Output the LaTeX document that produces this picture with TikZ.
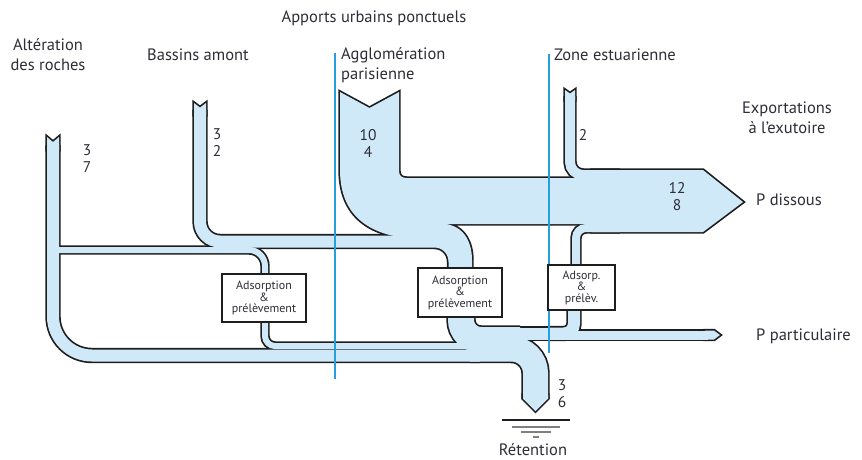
\documentclass[tikz,border=0pt]{standalone}
\usepackage{fontspec}
\setmainfont{PT Sans}
\definecolor{flow}{RGB}{208,233,248}
\definecolor{edge}{RGB}{30,30,30}
\definecolor{zone}{RGB}{38,160,218}
\definecolor{ink}{RGB}{45,45,55}
\newcommand{\rim}{0pt}
\newcommand{\tightlines}{\lineskiplimit-20pt\lineskip0pt\relax}
\newcommand{\flowshapes}[2]{%
\draw[#1,line width=12pt+\rim,rounded corners=39pt](53,145)--(53,355.5)--(480,355.5);
\draw[#1,line width=6pt+\rim,rounded corners=16pt](53,250)--(265,250)--(265,277);
\draw[#1,line width=12pt+\rim,rounded corners=20pt](200,110)--(200,241.5)--(454.5,241.5)--(454.5,272);
\draw[#1,line width=10pt+\rim,rounded corners=13pt](570,96)--(570,175)--(620,175);
\draw[#1,line width=8pt+\rim,rounded corners=10pt](576,268)--(576,228)--(620,228);
\draw[#1,line width=6pt+\rim,rounded corners=10pt](265,318)--(265,346)--(480,346);
\draw[#1,line width=26pt+\rim,rounded corners=20pt](461,314)--(461,340)--(520,340);
\draw[#1,line width=25pt+\rim,rounded corners=24pt](470,349)--(535.5,349)--(535.5,399);
\draw[#1,line width=12pt+\rim](480,333.5)--(576,333.5);
\draw[#1,line width=12pt+\rim,rounded corners=10pt](574,306)--(574,333.5)--(550,333.5);
\draw[#1,line width=9pt+\rim](565,335)--(708,335);
\path[#2](47,137)--(53,142)--(59,137)--(59,150)--(47,150)--cycle;
\path[#2](194,103)--(200,107.5)--(206,103)--(206,115)--(194,115)--cycle;
\path[#2](565,90)--(570,93.5)--(575,90)--(575,100)--(565,100)--cycle;
\path[#2](340,92)--(369.5,108)--(399,92)--(399,171)..controls(399,176)and(402,178)..(407,178)--(600,178)--(600,224)--(442,224)
  ..controls(462,224)and(472,240)..(472,260)--(472,272)--(454.5,272)--(454.5,261.5)..controls(454.5,250.5)and(445.5,241.5)..(434.5,241.5)
  --(425,239)..controls(375,239)and(340,220)..(340,170)--cycle;
\path[#2](592,170)--(703,170)--(743,202)--(703,232)--(592,232)--cycle;
\path[#2](523,395)--(523,398.5)--(535.5,411)--(548,398.5)--(548,395)--cycle;
\path[#2](705,330.5)--(714,330.5)--(720,335)--(714,339.5)--(705,339.5)--cycle;
}
\tikzset{
  lbl/.style={text=ink,inner sep=0pt,font={\fontsize{16.5}{20}\selectfont}},
  num/.style={lbl,align=center,font={\fontsize{15.5}{17}\selectfont\tightlines}},
  procbox/.style={draw=edge,fill=white,line width=1.5pt,align=center,inner sep=0pt,text=ink,
    font={\fontsize{12}{11.5}\selectfont\tightlines}},
  zoneline/.style={draw=zone,line width=1.6pt},
  ground/.style={draw=gray,line width=1.8pt}
}
\begin{document}
\begin{tikzpicture}[x=1pt,y=-1pt]
\useasboundingbox(0,0)rectangle(862,459);
\renewcommand{\rim}{3.4pt}\flowshapes{edge}{draw=edge,line width=3.4pt}
\renewcommand{\rim}{0pt}\flowshapes{flow}{fill=flow}
\draw[zoneline](335,53)--(335,379);\draw[zoneline](549,54)--(549,353);
\node[procbox,minimum width=84pt,minimum height=48pt](ads1)at(264,298){Adsorption\\\&\\prélèvement};
\node[procbox,minimum width=84pt,minimum height=49pt](ads2)at(460,292.5){Adsorption\\\&\\prélèvement};
\node[procbox,minimum width=67pt,minimum height=45pt](ads3)at(581.5,287.5){Adsorp.\\\&\\prélèv.};
\node[lbl](apports)at(374,18){Apports urbains ponctuels};
\node[lbl,align=center](alteration)at(48,55){Altération\\des roches};
\node[lbl](bassins)at(198,55){Bassins amont};
\node[lbl,align=left,anchor=west](agglo)at(341,65){Agglomération\\parisienne};
\node[lbl,anchor=west](estuaire)at(554,55){Zone estuarienne};
\node[lbl,align=center](exutoire)at(787,118){Exportations\\à l'exutoire};
\node[lbl,anchor=west](dissous)at(756,200){P dissous};
\node[lbl,anchor=west](particulaire)at(756,336){P particulaire};
\node[lbl](retention)at(533,450){Rétention};
\node[num](qalt)at(87,158.5){3\\7};\node[num](qbas)at(217,143){3\\2};
\node[num](qagg)at(368,143){10\\4};\node[num](qest)at(583,135){2};
\node[num](qexp)at(677,197){12\\8};\node[num](qret)at(562,394){3\\6};
\draw[edge,line width=1.6pt](502,420)--(570,420);
\foreach \y/\h in {427/24,432/15,437/3}\draw[ground](536-\h,\y)--(536+\h,\y);
\end{tikzpicture}
\end{document}
